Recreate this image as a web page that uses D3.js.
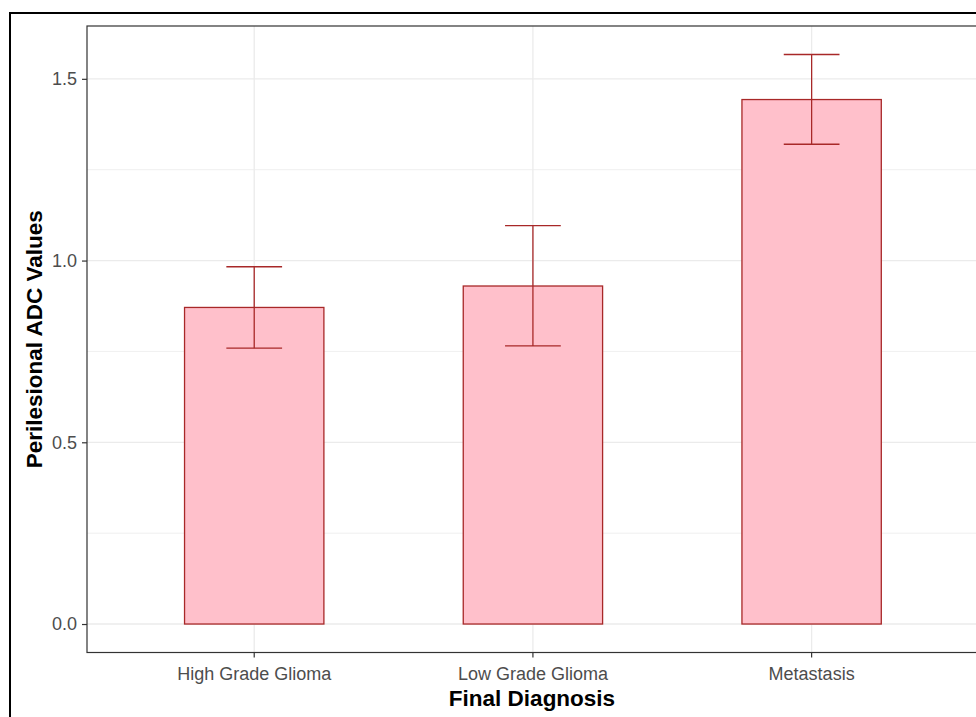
<!DOCTYPE html>
<html><head><meta charset="utf-8">
<script src="https://cdn.jsdelivr.net/npm/d3@7"></script>
<style>body{margin:0;background:#fff}svg{display:block}</style>
</head><body>
<script>
const categories = ["High Grade Glioma", "Low Grade Glioma", "Metastasis"];
const means = [0.871, 0.930, 1.443];
const lower = [0.759, 0.765, 1.320];
const upper = [0.983, 1.096, 1.567];
const yTicks = [0, 0.5, 1.0, 1.5];
const yMinor = [0.25, 0.75, 1.25];
const xTitle = "Final Diagnosis";
const yTitle = "Perilesional ADC Values";

const W = 976, H = 717;
const svg = d3.select("body").append("svg").attr("width", W).attr("height", H);
svg.append("rect").attr("width", W).attr("height", H).attr("fill", "#fff");
// outer frame
svg.append("rect").attr("x", 10).attr("y", 13).attr("width", W + 20).attr("height", H + 20)
  .attr("fill", "none").attr("stroke", "#000").attr("stroke-width", 2);

const pL = 87, pT = 26, pB = 652.5;
const step = 278.7;
const pR = pL + step * 3.2;

const x = d3.scaleBand().domain(categories).range([pL + 0.6*step - step/2, pR - 0.6*step + step/2]).paddingInner(0.5).paddingOuter(0.25);
const xc = d => x(d) + x.bandwidth()/2;
const yMax = d3.max(upper);
const ex = yMax * 0.05;
const y = d3.scaleLinear().domain([-ex, yMax + ex]).range([pB, pT]);

const font = "Liberation Sans, Arial, sans-serif";
const stroke = "#a82828";
const g = svg.append("g");
// grid
g.selectAll(".minor").data(yMinor).join("line")
  .attr("x1", pL).attr("x2", pR).attr("y1", d => y(d)).attr("y2", d => y(d))
  .attr("stroke", "#ebebeb").attr("stroke-width", 0.8);
g.selectAll(".major").data(yTicks).join("line")
  .attr("x1", pL).attr("x2", pR).attr("y1", d => y(d)).attr("y2", d => y(d))
  .attr("stroke", "#ebebeb").attr("stroke-width", 1.3);
g.selectAll(".vmaj").data(categories).join("line")
  .attr("x1", d => xc(d)).attr("x2", d => xc(d)).attr("y1", pT).attr("y2", pB)
  .attr("stroke", "#ebebeb").attr("stroke-width", 1.3);

// bars
g.selectAll(".bar").data(categories).join("rect")
  .attr("x", d => x(d)).attr("width", x.bandwidth())
  .attr("y", (d,i) => y(means[i])).attr("height", (d,i) => y(0) - y(means[i]))
  .attr("fill", "#FFC0CB").attr("stroke", stroke).attr("stroke-width", 1.3);

// error bars
const cap = step * 0.2 / 2;
const eb = g.selectAll(".eb").data(categories).join("g").attr("stroke", stroke).attr("stroke-width", 1.3);
eb.append("line").attr("x1", d => xc(d)).attr("x2", d => xc(d))
  .attr("y1", (d,i) => y(upper[i])).attr("y2", (d,i) => y(lower[i]));
eb.append("line").attr("x1", d => xc(d) - cap).attr("x2", d => xc(d) + cap)
  .attr("y1", (d,i) => y(upper[i])).attr("y2", (d,i) => y(upper[i]));
eb.append("line").attr("x1", d => xc(d) - cap).attr("x2", d => xc(d) + cap)
  .attr("y1", (d,i) => y(lower[i])).attr("y2", (d,i) => y(lower[i]));

// panel border
svg.append("rect").attr("x", pL).attr("y", pT).attr("width", pR - pL).attr("height", pB - pT)
  .attr("fill", "none").attr("stroke", "#333").attr("stroke-width", 1.2);

// axes
const yAxis = svg.append("g").attr("transform", `translate(${pL},0)`)
  .call(d3.axisLeft(y).tickValues(yTicks).tickFormat(d3.format(".1f")).tickSize(5).tickPadding(5));
yAxis.select(".domain").remove();
yAxis.selectAll(".tick line").attr("stroke", "#333").attr("stroke-width", 1.2);
yAxis.selectAll("text").attr("fill", "#4d4d4d").style("font-family", font).style("font-size", "18px");

const xAxis = svg.append("g").attr("transform", `translate(0,${pB})`)
  .call(d3.axisBottom(x).tickSize(5).tickPadding(10));
xAxis.select(".domain").remove();
xAxis.selectAll(".tick line").attr("stroke", "#333").attr("stroke-width", 1.2);
xAxis.selectAll("text").attr("fill", "#4d4d4d").style("font-family", font).style("font-size", "18px");

svg.append("text").attr("x", (pL + 978) / 2 - 0.5).attr("y", 706).attr("text-anchor", "middle")
  .style("font-family", font).style("font-size", "22.5px").style("font-weight", "bold").text(xTitle);
svg.append("text").attr("transform", `translate(42,${(pT + pB)/2}) rotate(-90)`).attr("text-anchor", "middle")
  .style("font-family", font).style("font-size", "22.5px").style("font-weight", "bold").text(yTitle);
</script>
</body></html>
